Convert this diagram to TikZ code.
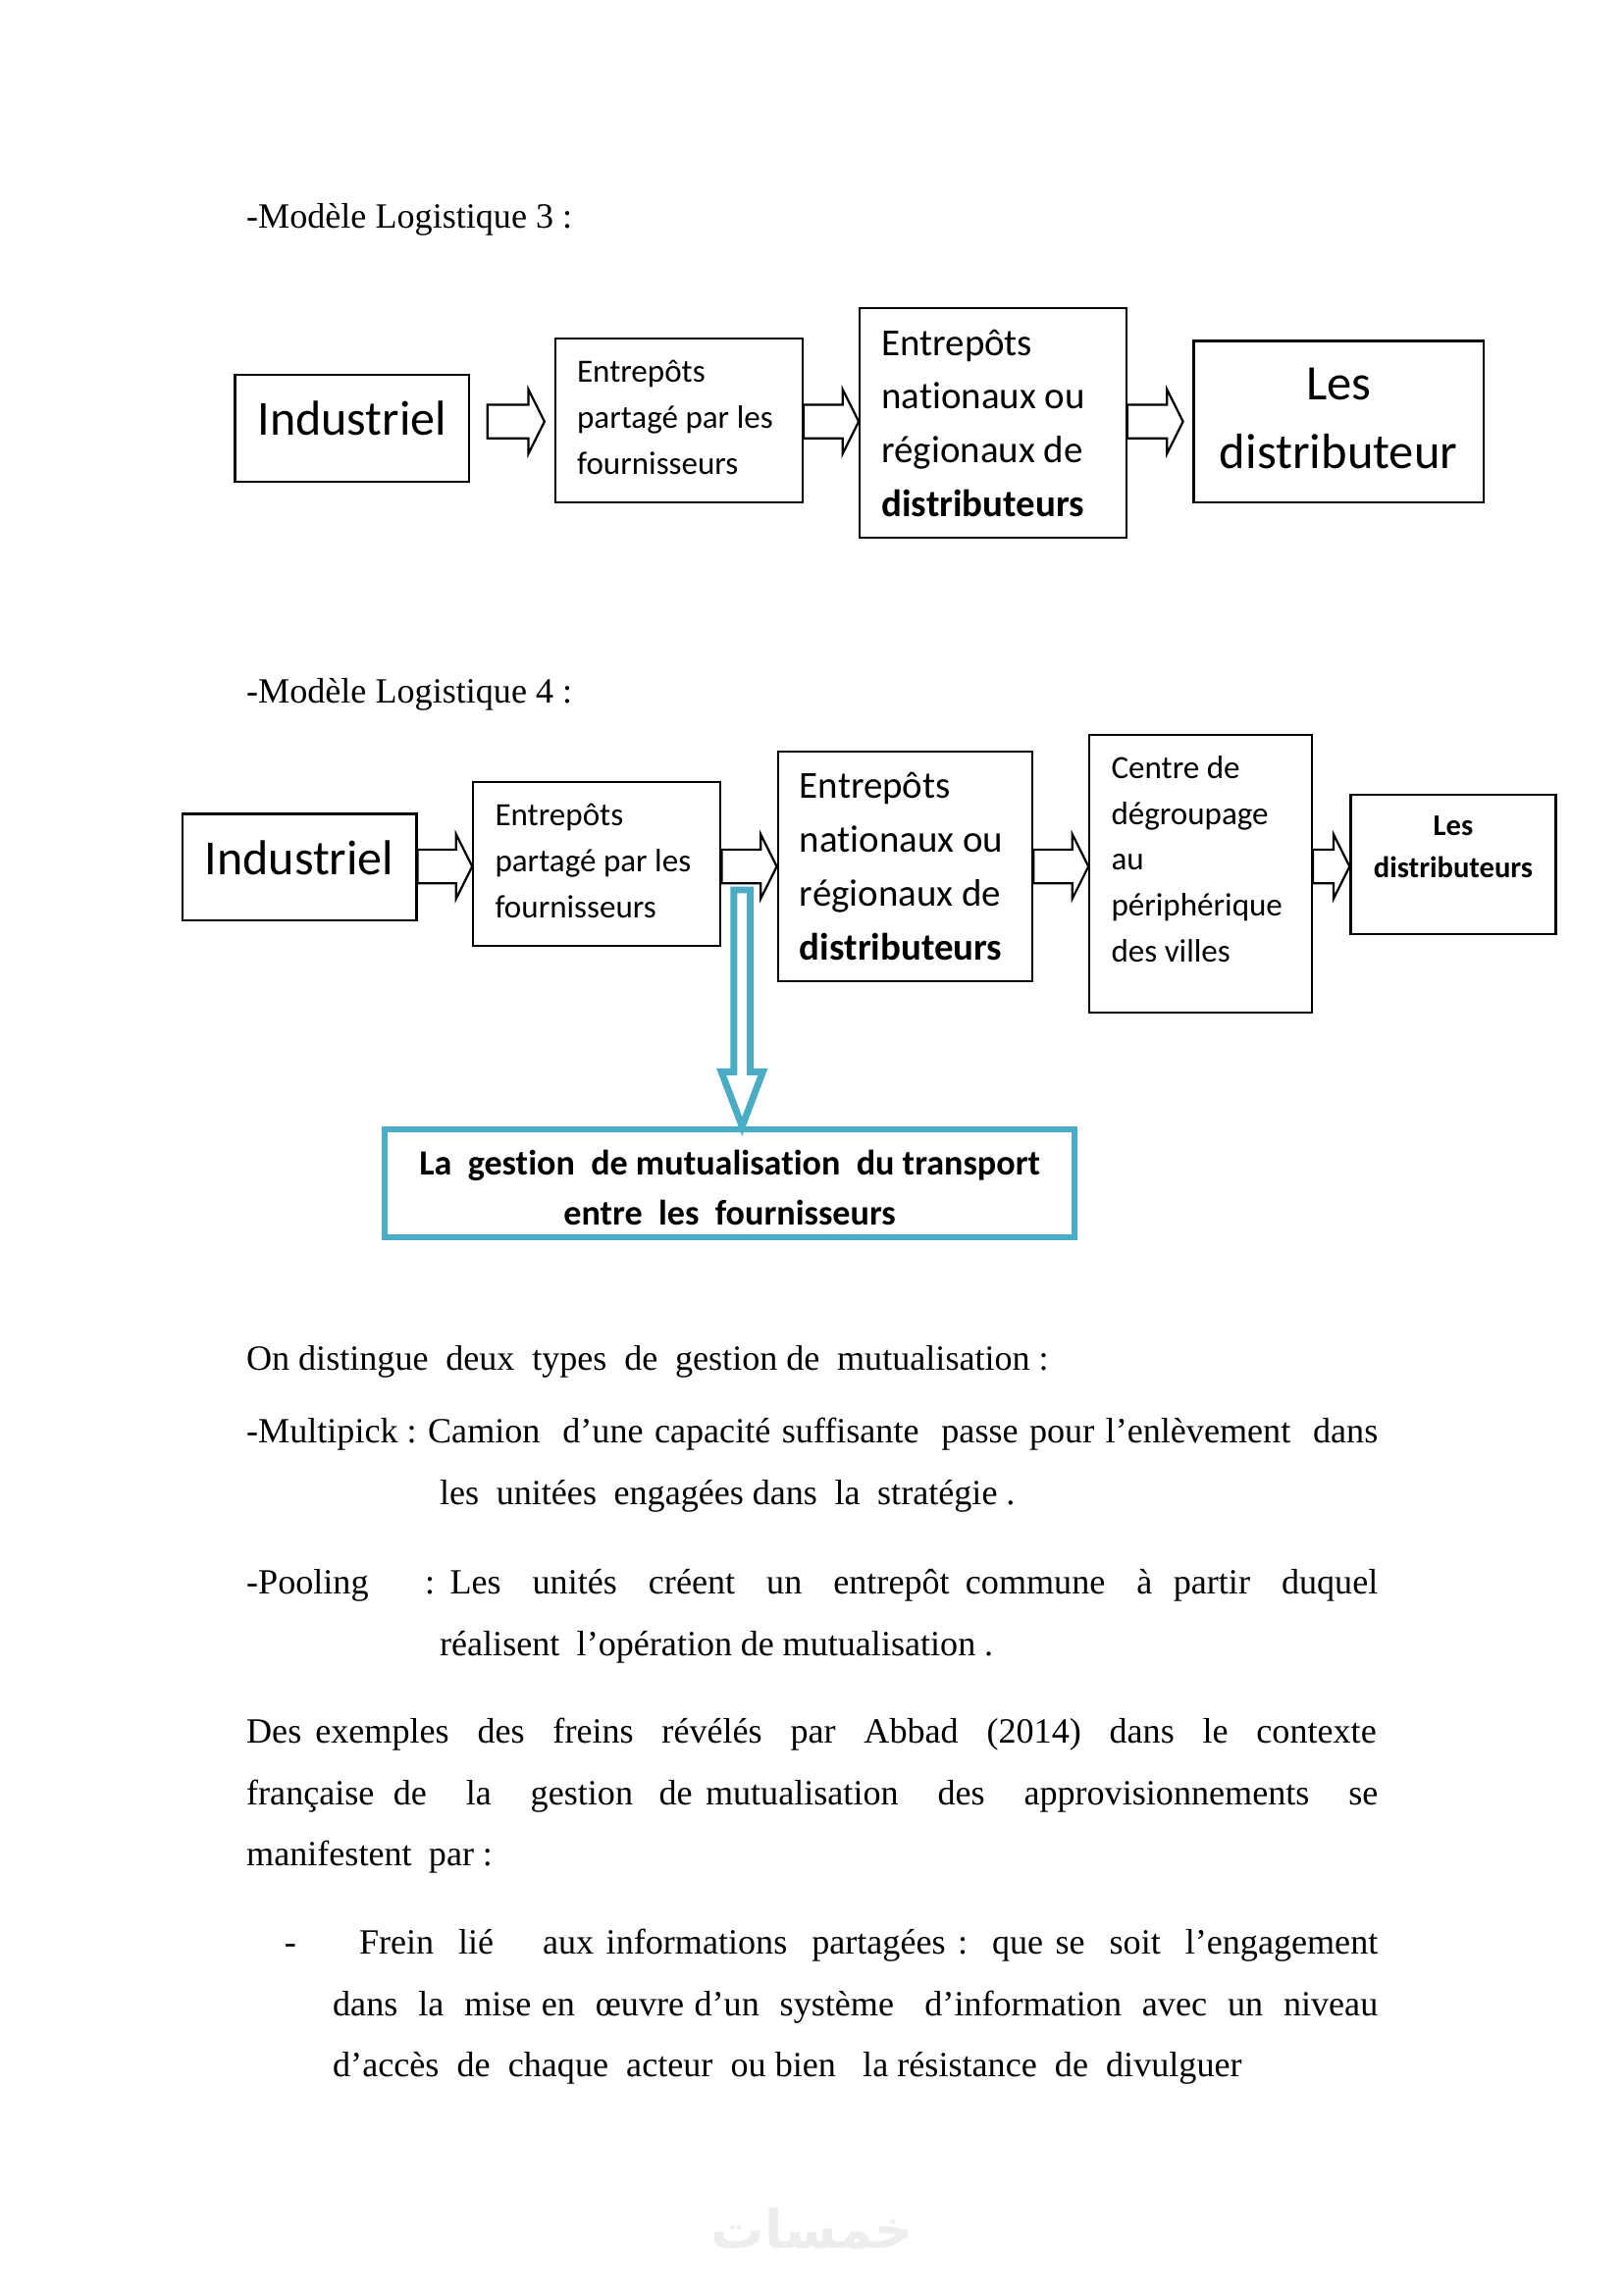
\documentclass[tikz,border=0pt]{standalone}
\usepackage{fontspec}
\setmainfont{Liberation Serif}
\newfontfamily\carlito[Ligatures={NoCommon}]{Carlito}
\newfontfamily\arabicfont[Script=Arabic]{DejaVu Sans}
\TeXXeTstate=1
\usetikzlibrary{calc}
\definecolor{blueline}{HTML}{4BACC6}
\newcommand{\fitline}[2]{\makebox[\dimexpr 0.5369pt*#1\relax][s]{#2}}
\newcommand{\lift}[1]{\rule[-#1pt]{0pt}{#1pt}}
\tikzset{
	plainbox/.style={draw, line width=0.8pt, inner xsep=8pt, inner ysep=0pt, align=flush left},
	bodytext/.style={anchor=base west, inner sep=0pt, font=\fontsize{13}{15}\selectfont},
	blockarrow/.style={draw, line width=0.8pt, fill=white, line join=miter,
		to path={let \p1=(\tikztostart), \p2=(\tikztotarget) in
			(\x1,\y1-6.2pt) -- (\x2-5.9pt,\y1-6.2pt) -- (\x2-5.9pt,\y1-11.8pt) -- (\x2,\y1)
			-- (\x2-5.9pt,\y1+11.8pt) -- (\x2-5.9pt,\y1+6.2pt) -- (\x1,\y1+6.2pt) -- cycle}},
	bluearrow/.style={draw=blueline, line width=2.5pt, fill=white, miter limit=20,
		to path={let \p1=(\tikztostart), \p2=(\tikztotarget) in
			(\x1-3pt,\y1) -- (\x1-3pt,\y2+20pt) -- (\x1-7.6pt,\y2+20pt) -- (\x1,\y2)
			-- (\x1+7.6pt,\y2+20pt) -- (\x1+3pt,\y2+20pt) -- (\x1+3pt,\y1) -- cycle}}
}
\begin{document}
\begin{tikzpicture}[x=0.5369pt, y=-0.5369pt]
	\useasboundingbox (0,0) rectangle (1108.8,1568);

	\node[bodytext] (title3) at (168,156) {-Modèle Logistique 3 :};

	\node[plainbox, minimum width=85.9pt, minimum height=39.2pt, align=center, font=\carlito\fontsize{18}{24}\selectfont] (ind3) at (240.5,292.5) {Industriel\lift{7}};
	\node[plainbox, minimum width=90.7pt, minimum height=60.1pt, text width=74.7pt, font=\carlito\fontsize{11.9}{16.9}\selectfont] (ent3) at (463.8,287) {Entrepôts\\partagé par les\\fournisseurs\lift{2}};
	\node[plainbox, minimum width=97.7pt, minimum height=84.3pt, text width=81.7pt, font=\carlito\fontsize{14}{19.7}\selectfont] (nat3) at (678.4,289) {Entrepôts\\nationaux ou\\régionaux de\\\textbf{distributeurs}};
	\node[plainbox, minimum width=106.3pt, minimum height=59.1pt, align=center, font=\carlito\fontsize{18.2}{25}\selectfont] (dis3) at (914.5,288) {Les\\distributeur\lift{2.5}};

	\coordinate (arrowa) at (333,288);
	\coordinate (arrowb) at (372,288);
	\path (arrowa) edge[blockarrow] (arrowb);
	\path (ent3.east |- arrowa) edge[blockarrow] (nat3.west |- arrowa);
	\path (nat3.east |- arrowa) edge[blockarrow] ($(dis3.west |- arrowa)+(-3.5pt,0)$);

	\node[bodytext] (title4) at (168,480) {-Modèle Logistique 4 :};

	\node[plainbox, minimum width=85.9pt, minimum height=39.2pt, align=center, font=\carlito\fontsize{18}{24}\selectfont] (ind4) at (204.5,592.5) {Industriel\lift{7}};
	\node[plainbox, minimum width=90.7pt, minimum height=60.1pt, text width=74.7pt, font=\carlito\fontsize{11.9}{16.9}\selectfont] (ent4) at (407.8,590) {Entrepôts\\partagé par les\\fournisseurs\lift{2}};
	\node[plainbox, minimum width=93.4pt, minimum height=84.3pt, text width=77.4pt, font=\carlito\fontsize{14}{19.7}\selectfont] (nat4) at (618.4,592) {Entrepôts\\nationaux ou\\régionaux de\\\textbf{distributeurs}};
	\node[plainbox, minimum width=81.6pt, minimum height=102pt, text width=65.6pt, font=\carlito\fontsize{11.9}{16.8}\selectfont] (cen4) at (820.3,597) {Centre de\\dégroupage\\au\\périphérique\\des villes\lift{11}};
	\node[plainbox, minimum width=75.2pt, minimum height=51pt, align=center, font=\carlito\bfseries\fontsize{11}{15.6}\selectfont] (dis4) at (992.8,590.5) {Les\\distributeurs\lift{13}};

	\coordinate (arrowc) at (300,592);
	\path (ind4.east |- arrowc) edge[blockarrow] (ent4.west |- arrowc);
	\path (ent4.east |- arrowc) edge[blockarrow] (nat4.west |- arrowc);
	\path (nat4.east |- arrowc) edge[blockarrow] (cen4.west |- arrowc);
	\path (cen4.east |- arrowc) edge[blockarrow] (dis4.west |- arrowc);

	\node[draw=blueline, line width=2.3pt, minimum width=253pt, minimum height=39.5pt, inner sep=0pt, align=center, font=\carlito\bfseries\fontsize{13}{18.3}\selectfont] (gestion) at (498.5,808.5) {\rule{0pt}{12.5pt}La~~gestion~~de mutualisation~~du transport\\entre~~les~~fournisseurs};

	\coordinate (bluestart) at (507,608);
	\path (bluestart) edge[bluearrow] (bluestart |- gestion.north);

	% texte
	\node[bodytext] (t1) at (168,936) {\fitline{548}{On distingue~~deux~~types~~de~~gestion de~~mutualisation :}};
	\node[bodytext] (t2a) at (168,986) {-Multipick :};
	\node[bodytext] (t2) at (292,986) {\fitline{649}{Camion~~d’une capacité suffisante~~passe pour l’enlèvement~~dans}};
	\node[bodytext] (t3) at (300,1028) {\fitline{393}{les~~unitées~~engagées dans~~la~~stratégie .}};
	\node[bodytext] (t4) at (168,1089) {-Pooling};
	\node[bodytext] (t5) at (290,1089) {\fitline{651}{: Les~~~unités~~~créent~~~un~~~entrepôt\hspace{2pt} commune~~~à~~partir~~~duquel}};
	\node[bodytext] (t6) at (300,1131) {\fitline{378}{réalisent~~l’opération de mutualisation .}};
	\node[bodytext] (t7) at (168,1191) {\fitline{772}{Des\hspace{1.6pt} exemples~~~des~~~freins~~~révélés~~~par~~~Abbad~~~(2014)~~~dans~~~le~~~contexte}};
	\node[bodytext] (t8) at (168,1233) {\fitline{773}{française\hspace{2.2pt} de~~~la~~~gestion~~de mutualisation~~~des~~~approvisionnements~~~se}};
	\node[bodytext] (t9) at (168,1275) {\fitline{168}{manifestent~~par :}};
	\node[bodytext] (t10) at (194,1335) {-};
	\node[bodytext] (t11) at (245,1335) {\fitline{696}{Frein~~lié~~~~aux informations~~partagées :~~que se~~soit~~l’engagement}};
	\node[bodytext] (t12) at (227,1377) {\fitline{714}{dans~~la~~mise en~~œuvre d’un~~système~~~d’information~~avec~~un~~niveau}};
	\node[bodytext] (t13) at (227,1419) {\fitline{621}{d’accès~~de~~chaque~~acteur~~ou bien~~~la résistance~~de~~divulguer}};

	\node[inner sep=0pt, text=gray!14, font=\arabicfont\bfseries\fontsize{19.6}{20}\selectfont] (logo) at (555,1523) {\beginR خمسات\endR};
\end{tikzpicture}
\end{document}
